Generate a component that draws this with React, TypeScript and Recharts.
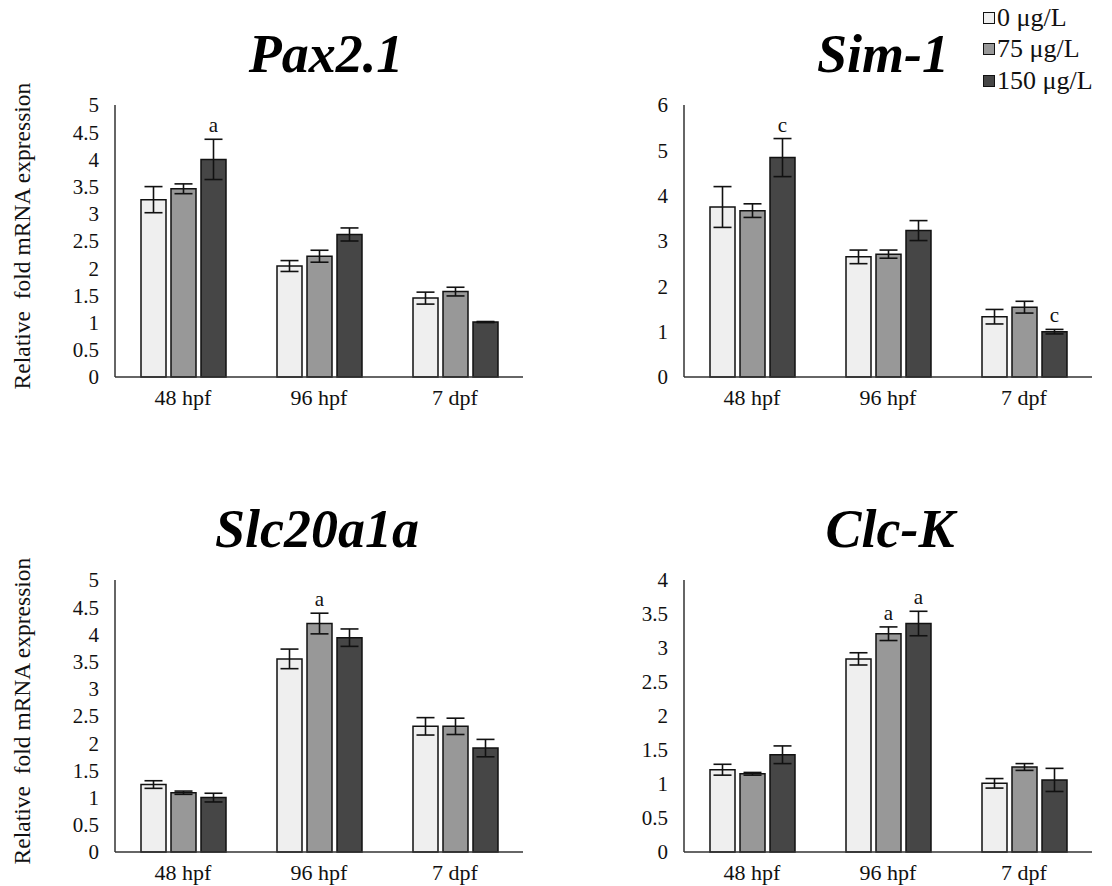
import React from 'react'
import { BarChart, Bar, XAxis, YAxis, ErrorBar, LabelList, Legend } from 'recharts'

const stages = ['48 hpf', '96 hpf', '7 dpf']
const doses = ['0 μg/L', '75 μg/L', '150 μg/L']
const fills = ['#efefef', '#989898', '#464646']

// rows = stage, columns = dose
const paxMean = [[3.26, 3.46, 4.0], [2.04, 2.22, 2.62], [1.45, 1.57, 1.01]]
const paxErr = [[0.24, 0.09, 0.37], [0.1, 0.11, 0.12], [0.11, 0.08, 0.01]]
const paxMarks = [['', '', 'a'], ['', '', ''], ['', '', '']]

const simMean = [[3.75, 3.67, 4.84], [2.65, 2.71, 3.23], [1.33, 1.54, 1.0]]
const simErr = [[0.45, 0.15, 0.42], [0.15, 0.09, 0.22], [0.16, 0.13, 0.05]]
const simMarks = [['', '', 'c'], ['', '', ''], ['', '', 'c']]

const slcMean = [[1.24, 1.09, 1.0], [3.55, 4.2, 3.94], [2.31, 2.31, 1.91]]
const slcErr = [[0.07, 0.03, 0.08], [0.18, 0.19, 0.16], [0.16, 0.15, 0.16]]
const slcMarks = [['', '', ''], ['', 'a', ''], ['', '', '']]

const clcMean = [[1.21, 1.15, 1.43], [2.84, 3.21, 3.36], [1.01, 1.25, 1.06]]
const clcErr = [[0.08, 0.02, 0.13], [0.09, 0.1, 0.18], [0.07, 0.05, 0.17]]
const clcMarks = [['', '', ''], ['', 'a', 'a'], ['', '', '']]

const ticks5 = [0, 0.5, 1, 1.5, 2, 2.5, 3, 3.5, 4, 4.5, 5]
const ticks6 = [0, 1, 2, 3, 4, 5, 6]
const ticks4 = [0, 0.5, 1, 1.5, 2, 2.5, 3, 3.5, 4]

const serif = 'Liberation Serif'

type PanelProps = {
  title: string
  mean: number[][]
  err: number[][]
  marks: string[][]
  ticks: number[]
  left: number
  top: number
  width: number
  axisW: number
  titleX: number
  yLabel?: boolean
  legend?: boolean
}

function Panel({ title, mean, err, marks, ticks, left, top, width, axisW, titleX, yLabel, legend }: PanelProps) {
  const data = stages.map((s, i) => ({
    stage: s,
    d0: mean[i][0], e0: err[i][0],
    d1: mean[i][1], e1: err[i][1],
    d2: mean[i][2], e2: err[i][2],
  }))

  const markLabel = (k: number) => (p: any) => {
    const m = marks[p.index]?.[k]
    if (!m) return null
    const pxPerUnit = p.height / p.value
    const errTop = p.y - err[p.index][k] * pxPerUnit
    return (
      <text x={p.x + p.width / 2} y={errTop - 7} textAnchor="middle" fontFamily={serif} fontSize={21} fill="#111">
        {m}
      </text>
    )
  }

  return (
    <div style={{ position: 'absolute', left, top, width, height: 420, fontFamily: serif }}>
      <div style={{ position: 'absolute', left: titleX - left - 150, top: 27, width: 300, textAlign: 'center',
        fontWeight: 'bold', fontStyle: 'italic', fontSize: 54, lineHeight: 1, color: '#000' }}>
        {title}
      </div>
      {yLabel && (
        <div style={{ position: 'absolute', left: 22 - 170, top: 236 - 13, width: 340, textAlign: 'center',
          transform: 'rotate(-90deg)', fontSize: 23.5, lineHeight: '26px', color: '#111', whiteSpace: 'pre' }}>
          {'Relative  fold mRNA expression'}
        </div>
      )}
      <div style={{ position: 'absolute', left: 0, top: 0 }}>
        <BarChart width={width} height={420} data={data} style={{ fontFamily: serif }}
          margin={{ top: 105, right: width - axisW - 408, bottom: 0, left: 0 }}
          barSize={25} barGap={5}>
          <XAxis dataKey="stage" height={43} tickLine={false} tickSize={6} tickMargin={6}
            axisLine={{ stroke: '#333', strokeWidth: 1.5 }}
            tick={{ fill: '#111', fontSize: 22, fontFamily: serif }} />
          <YAxis width={axisW} domain={[0, ticks[ticks.length - 1]]} ticks={ticks} interval={0}
            tickLine={false} tickSize={8} tickMargin={8}
            axisLine={{ stroke: '#333', strokeWidth: 1.5 }}
            tick={{ fill: '#111', fontSize: 21, fontFamily: serif }} />
          {legend && (
            <Legend layout="vertical" align="center" verticalAlign="middle"
              wrapperStyle={{ top: 2, left: 413, width: 150 }}
              content={(p: any) => {
                const items = [...(p.payload || [])].sort((a: any, b: any) => doses.indexOf(a.value) - doses.indexOf(b.value))
                return (
                  <div>
                    {items.map((e: any) => (
                      <div key={e.value} style={{ display: 'flex', alignItems: 'center', height: 31.5,
                        fontFamily: serif, fontSize: 26, color: '#111' }}>
                        <span style={{ display: 'inline-block', width: 10, height: 10, background: e.color,
                          border: '1.5px solid #111', marginRight: 2 }} />
                        {e.value}
                      </div>
                    ))}
                  </div>
                )
              }} />
          )}
          {[0, 1, 2].map((k) => (
            <Bar key={k} dataKey={`d${k}`} name={doses[k]} fill={fills[k]} stroke="#111" strokeWidth={1.5}
              isAnimationActive={false}>
              <ErrorBar dataKey={`e${k}`} width={9} stroke="#111" strokeWidth={1.6} isAnimationActive={false} />
              <LabelList dataKey={`d${k}`} content={markLabel(k)} />
            </Bar>
          ))}
        </BarChart>
      </div>
    </div>
  )
}

export default function App() {
  return (
    <div style={{ position: 'absolute', left: 0, top: 0, width: 1112, height: 886, background: '#fff', overflow: 'hidden' }}>
      <Panel title="Pax2.1" mean={paxMean} err={paxErr} marks={paxMarks} ticks={ticks5}
        left={0} top={0} width={560} axisW={115} titleX={326} yLabel />
      <Panel title="Sim-1" mean={simMean} err={simErr} marks={simMarks} ticks={ticks6}
        left={570} top={0} width={530} axisW={114} titleX={883} legend />
      <Panel title="Slc20a1a" mean={slcMean} err={slcErr} marks={slcMarks} ticks={ticks5}
        left={0} top={475} width={560} axisW={115} titleX={317} yLabel />
      <Panel title="Clc-K" mean={clcMean} err={clcErr} marks={clcMarks} ticks={ticks4}
        left={570} top={475} width={530} axisW={114} titleX={890} />
    </div>
  )
}
